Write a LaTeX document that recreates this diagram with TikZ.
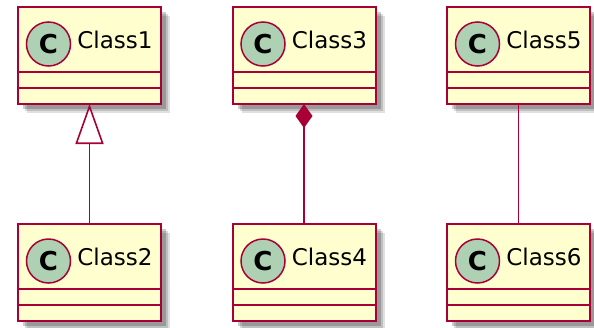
\documentclass[tikz,border=0pt]{standalone}
\usepackage{fontspec}
\setmainfont{DejaVu Sans}
\usetikzlibrary{arrows.meta,positioning,shadows}

\definecolor{umlred}{HTML}{A80036}
\definecolor{umlfill}{HTML}{FEFECE}
\definecolor{umlspot}{HTML}{ADD1B2}

\begin{document}
\begin{tikzpicture}[
  font=\fontsize{11.5}{13}\selectfont,
  node distance=60pt and 35.75pt,
  cls/.style={draw=umlred,fill=umlfill,line width=1pt,outer sep=0pt,
              minimum width=71.5pt,minimum height=48.5pt,inner sep=0pt,
              text height=20.5pt,text depth=28pt,
              execute at begin node={\hspace*{25.5pt}},
              % soft shadow from a few stacked layers
              drop shadow={shadow xshift=4.5pt,shadow yshift=-4.5pt,
                           fill=black,opacity=.12},
              drop shadow={shadow xshift=3.5pt,shadow yshift=-3.5pt,
                           fill=black,opacity=.15},
              drop shadow={shadow xshift=2.5pt,shadow yshift=-2.5pt,
                           fill=black,opacity=.2},
              path picture={\draw[umlred,line width=1pt]
                ([yshift=-32.5pt]path picture bounding box.north west) -- ++(80pt,0)
                ([yshift=-40.5pt]path picture bounding box.north west) -- ++(80pt,0);}},
  spot/.style={circle,draw=umlred,fill=umlspot,line width=.75pt,
               minimum size=22pt,inner sep=0pt,
               font=\bfseries\fontsize{13}{14}\selectfont},
  link/.style={draw=umlred,line width=.8pt},
  gen/.style={link,-{Triangle[length=20pt,width=14pt,fill=white]}},
  comp/.style={link,{Diamond[length=12pt,width=8.5pt]}-}
]
\useasboundingbox (0,0) rectangle (297pt,-163.5pt);

\node[cls] (c1) at (44.75pt,-27.75pt) {Class1};
\node[cls,below=of c1] (c2) {Class2};
\node[cls,right=of c1] (c3) {Class3};
\node[cls,below=of c3] (c4) {Class4};
\node[cls,right=of c3] (c5) {Class5};
\node[cls,below=of c5] (c6) {Class6};

% class marks
\foreach \c in {c1,c2,c3,c4,c5,c6}
  \node[spot] (\c-spot) at ([xshift=15.25pt,yshift=-18.5pt]\c.north west) {C};

\draw[gen] (c2) -- (c1);
\draw[comp] (c3) -- (c4);
\draw[link] (c5) -- (c6);
\end{tikzpicture}
\end{document}
